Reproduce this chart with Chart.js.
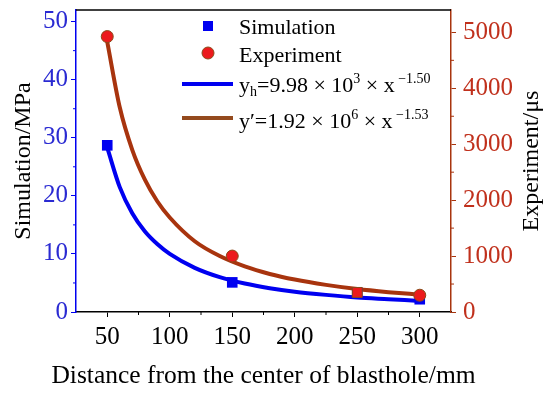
<!DOCTYPE html>
<html>
<head>
<meta charset="utf-8">
<script src="https://cdn.jsdelivr.net/npm/chart.js@4.4.1/dist/chart.umd.min.js"></script>
<style>
  html, body { margin: 0; padding: 0; background: #fff; }
</style>
</head>
<body>
<canvas id="blastChart" width="550" height="393"></canvas>
<script>
// measured points
const distances = [50, 150, 250, 300];
const simulationMPa = [28.7, 5.1, 3.3, 2.2];
const experimentUs = [4925, 1000, 350, 300];
const experimentStyles = ['circle', 'circle', 'rect', 'circle'];

// fitted curves
const fitDistances = [50, 60, 70, 80, 90, 100, 120, 140, 160, 180, 200, 225, 250, 275, 300];
const fitSimulation = [28.3, 21.5, 17.0, 13.9, 11.7, 10.0, 7.6, 6.0, 4.9, 4.1, 3.5, 2.95, 2.5, 2.2, 1.9];
const fitExperiment = [4830, 3660, 2900, 2370, 1980, 1690, 1265, 1000, 815, 680, 580, 485, 410, 355, 310];

// tick labels
const xTicks = [50, 100, 150, 200, 250, 300];
const leftTicks = [0, 10, 20, 30, 40, 50];
const rightTicks = [0, 1000, 2000, 3000, 4000, 5000];

const FONT = '"Liberation Serif", "Times New Roman", serif';
const blue = '#0000f0';
const blueText = '#2a2ad2';
const brown = '#a8340e';
const brownText = '#c0301c';
const red = '#ec1a1c';

Chart.defaults.font.family = FONT;

function toXY(xs, ys) {
    return xs.map((x, i) => ({ x: x, y: ys[i] }));
}

function fixTicks(list) {
    return function (axis) {
        axis.ticks = list.map(v => ({ value: v }));
    };
}

function plainLabel(value) {
    return String(value);
}

// fixed box sizes so the plot area sits where the original one does
function sizeAxis(w, h) {
    return function (s) {
        if (w) s.width = w;
        if (h) s.height = h;
        s.paddingTop = 0;
        s.paddingBottom = 0;
        s.paddingLeft = 0;
        s.paddingRight = 0;
    };
}

// minor ticks, top frame, x title (unsqueezed) and right axis title (reads bottom to top)
const framePlugin = {
    id: 'frame',
    afterDraw(chart) {
        const ctx = chart.ctx;
        const a = chart.chartArea;
        const sx = chart.scales.x, sl = chart.scales.yLeft, sr = chart.scales.yRight;
        ctx.save();
        ctx.lineWidth = 1.5;
        ctx.strokeStyle = '#000';
        ctx.beginPath();
        ctx.moveTo(a.left, a.top);
        ctx.lineTo(a.right, a.top);
        ctx.stroke();

        ctx.lineWidth = 1;
        ctx.beginPath();
        for (let v = 75; v < 325; v += 50) {
            const px = sx.getPixelForValue(v);
            ctx.moveTo(px, a.bottom);
            ctx.lineTo(px, a.bottom + 3);
        }
        ctx.stroke();

        ctx.strokeStyle = blue;
        ctx.beginPath();
        for (let v = 5; v < 52; v += 10) {
            const py = sl.getPixelForValue(v);
            ctx.moveTo(a.left, py);
            ctx.lineTo(a.left - 3, py);
        }
        ctx.stroke();

        ctx.strokeStyle = brown;
        ctx.beginPath();
        for (let v = 500; v < 5400; v += 1000) {
            const py = sr.getPixelForValue(v);
            ctx.moveTo(a.right, py);
            ctx.lineTo(a.right + 3, py);
        }
        ctx.stroke();

        ctx.fillStyle = '#000';
        ctx.textAlign = 'center';
        ctx.textBaseline = 'alphabetic';
        ctx.font = '25.5px ' + FONT;
        ctx.fillText('Distance from the center of blasthole/mm', (a.left + a.right) / 2, 383);

        ctx.translate(532, (a.top + a.bottom) / 2);
        ctx.rotate(-Math.PI / 2);
        ctx.font = '24px ' + FONT;
        ctx.textBaseline = 'middle';
        ctx.fillText('Experiment/μs', 0, 0);
        ctx.restore();
    }
};

// draws text made of normal / sub / superscript pieces
function drawRich(ctx, x, y, parts) {
    parts.forEach(p => {
        const small = p[1] !== 0;
        ctx.font = (small ? '14px ' : '22px ') + FONT;
        const dy = p[1] === 1 ? -9 : (p[1] === -1 ? 4 : 0);
        ctx.fillText(p[0], x, y + dy);
        x += ctx.measureText(p[0]).width;
    });
}

const legendPlugin = {
    id: 'formulaLegend',
    afterDraw(chart) {
        const ctx = chart.ctx;
        ctx.save();
        ctx.fillStyle = blue;
        ctx.fillRect(203, 21, 10, 10);

        ctx.beginPath();
        ctx.arc(208, 53, 6, 0, Math.PI * 2);
        ctx.fillStyle = red;
        ctx.fill();
        ctx.strokeStyle = '#8a4a18';
        ctx.lineWidth = 1;
        ctx.stroke();

        ctx.lineWidth = 4;
        ctx.strokeStyle = blue;
        ctx.beginPath();
        ctx.moveTo(182, 84);
        ctx.lineTo(233, 84);
        ctx.stroke();
        ctx.strokeStyle = '#944a1e';
        ctx.beginPath();
        ctx.moveTo(182, 118);
        ctx.lineTo(233, 118);
        ctx.stroke();

        ctx.fillStyle = '#000';
        ctx.textBaseline = 'alphabetic';
        ctx.textAlign = 'left';
        ctx.font = '22px ' + FONT;
        ctx.fillText('Simulation', 239, 34);
        ctx.fillText('Experiment', 239, 62);
        drawRich(ctx, 239, 92, [['y', 0], ['h', -1], ['=9.98 × 10', 0], ['3', 1], [' × x', 0], [' −1.50', 1]]);
        drawRich(ctx, 239, 128, [['y′=1.92 × 10', 0], ['6', 1], [' × x', 0], [' −1.53', 1]]);
        ctx.restore();
    }
};

const ctx = document.getElementById('blastChart').getContext('2d');
const chart = new Chart(ctx, {
    type: 'scatter',
    data: {
        datasets: [
            {
                label: 'Experiment',
                data: toXY(distances, experimentUs),
                yAxisID: 'yRight',
                pointStyle: experimentStyles,
                pointRadius: [6, 6, 7, 6],
                backgroundColor: red,
                borderColor: '#8a4a18',
                borderWidth: 1,
                showLine: false
            },
            {
                label: 'Simulation',
                data: toXY(distances, simulationMPa),
                yAxisID: 'yLeft',
                pointStyle: 'rect',
                pointRadius: 7.5,
                backgroundColor: blue,
                borderColor: blue,
                borderWidth: 0,
                showLine: false
            },
            {
                label: 'fit experiment',
                data: toXY(fitDistances, fitExperiment),
                yAxisID: 'yRight',
                showLine: true,
                pointRadius: 0,
                borderColor: brown,
                borderWidth: 4,
                cubicInterpolationMode: 'monotone'
            },
            {
                label: 'fit simulation',
                data: toXY(fitDistances, fitSimulation),
                yAxisID: 'yLeft',
                showLine: true,
                pointRadius: 0,
                borderColor: blue,
                borderWidth: 4,
                cubicInterpolationMode: 'monotone'
            }
        ]
    },
    options: {
        responsive: false,
        animation: false,
        layout: { padding: { top: 10, left: 0, right: 0, bottom: 0 } },
        plugins: {
            legend: { display: false },
            tooltip: { enabled: false }
        },
        scales: {
            x: {
                type: 'linear',
                min: 25,
                max: 325,
                afterBuildTicks: fixTicks(xTicks),
                afterFit: sizeAxis(0, 81),
                border: { color: '#000', width: 1.5 },
                grid: { drawOnChartArea: false, tickLength: 5, tickColor: '#000', tickWidth: 1 },
                ticks: { color: '#000', padding: 5, maxRotation: 0, callback: plainLabel, font: { family: FONT, size: 25 } },
                title: { display: false }
            },
            yLeft: {
                type: 'linear',
                position: 'left',
                min: 0,
                max: 52,
                afterBuildTicks: fixTicks(leftTicks),
                afterFit: sizeAxis(76, 0),
                border: { color: blue, width: 1.5 },
                grid: { drawOnChartArea: false, tickLength: 5, tickColor: blue, tickWidth: 1 },
                ticks: { color: blueText, padding: 3, callback: plainLabel, font: { family: FONT, size: 25 } },
                title: {
                    display: true,
                    text: 'Simulation/MPa',
                    color: '#000',
                    padding: { top: 9 },
                    font: { family: FONT, size: 24 }
                }
            },
            yRight: {
                type: 'linear',
                position: 'right',
                min: 0,
                max: 5400,
                afterBuildTicks: fixTicks(rightTicks),
                afterFit: sizeAxis(99, 0),
                border: { color: brown, width: 1.5 },
                grid: { drawOnChartArea: false, tickLength: 5, tickColor: brown, tickWidth: 1 },
                ticks: { color: brownText, padding: 7, callback: plainLabel, font: { family: FONT, size: 25 } },
                title: { display: false }
            }
        }
    },
    plugins: [framePlugin, legendPlugin]
});
</script>
</body>
</html>
